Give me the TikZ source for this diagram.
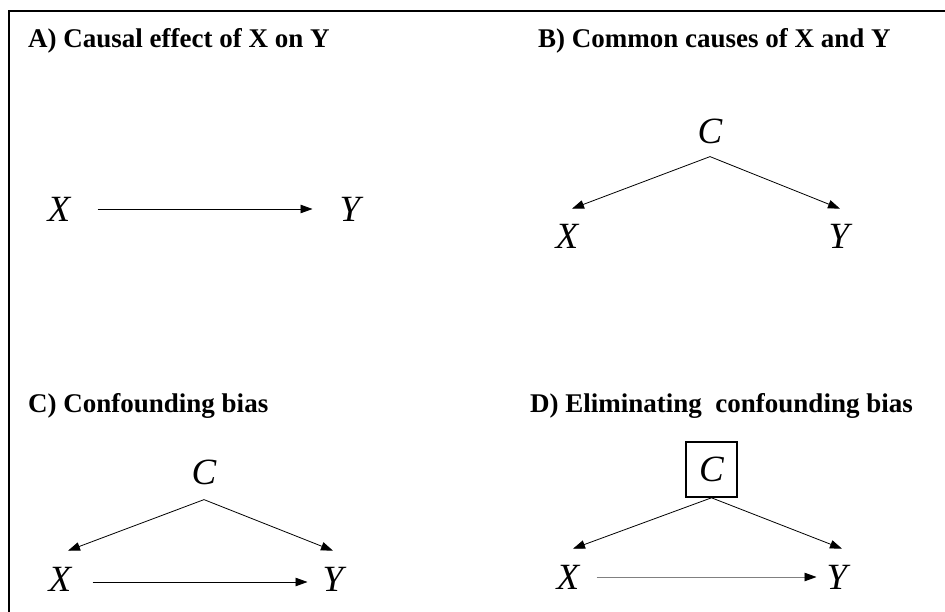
\documentclass[tikz,border=0pt]{standalone}
\usepackage{fontspec}
\setmainfont{Liberation Serif}
\usepackage{tikz}
\usetikzlibrary{positioning, arrows.meta}
\newcommand{\ttlfont}{\fontsize{27}{30}\selectfont\bfseries}
\newcommand{\varfont}{\fontsize{37}{40}\selectfont\itshape}

\begin{document}
\begin{tikzpicture}[
    x=1pt, y=-1pt,
    ttl/.style={anchor=base west, font=\ttlfont, inner sep=0pt},
    var/.style={font=\varfont, inner sep=0pt},
    arr/.style={-{Triangle[length=12pt,width=8.5pt]}, line width=0.8pt},
    adjbox/.style={var, draw, line width=1.6pt, minimum width=51pt, minimum height=55pt}
]
\useasboundingbox (0,0) rectangle (945,612);

% Frame
\draw[line width=2pt] (9,612) -- (9,11) -- (945,11);

% Titles
\node[ttl] (tA) at (28,48) {A) Causal effect of X on Y};
\node[ttl] (tB) at (538,48) {B) Common causes of X and Y};
\node[ttl] (tC) at (28,412) {C) Confounding bias};
\node[ttl] (tD) at (530,412) {D) Eliminating\ \ confounding bias};

% A) Causal effect
\node[var] (xA) at (59,209) {X};
\node[var] (yA) at (350,209) {Y};
\draw[arr, shorten <=27pt, shorten >=27pt] (xA) -- (yA);

% B) Common causes
\node[var] (cB) at (710,131) {C};
\node[var] (xB) at (567,236) {X};
\node[var] (yB) at (839,236) {Y};
\draw[arr] ([yshift=-13pt]cB.south) -- ([xshift=5pt, yshift=15pt]xB.north);
\draw[arr] ([yshift=-13pt]cB.south) -- ([xshift=1pt, yshift=15pt]yB.north);

% C) Confounding bias
\node[var] (cC) at (204,472) {C};
\node[var] (xC) at (60,579) {X};
\node[var] (yC) at (333,579) {Y};
\draw[arr] ([yshift=-15pt]cC.south) -- ([xshift=8pt, yshift=16pt]xC.north);
\draw[arr] ([yshift=-15pt]cC.south) -- ([yshift=16pt]yC.north);
\draw[arr, shorten <=21pt, shorten >=15pt] ([yshift=-3pt]xC.east) -- ([yshift=-3pt]yC.west);

% D) Eliminating confounding bias
\node[adjbox] (cD) at (711.5,469.5) {C};
\node[var] (xD) at (568,577) {X};
\node[var] (yD) at (837,577) {Y};
\draw[arr] (cD.south) -- ([xshift=5pt, yshift=16pt]xD.north);
\draw[arr] (cD.south) -- ([xshift=5pt, yshift=16pt]yD.north);
\draw[arr, draw=gray, -{Triangle[length=12pt,width=8.5pt,color=black]}, shorten <=17pt, shorten >=10pt] (xD) -- (yD);

\end{tikzpicture}
\end{document}
